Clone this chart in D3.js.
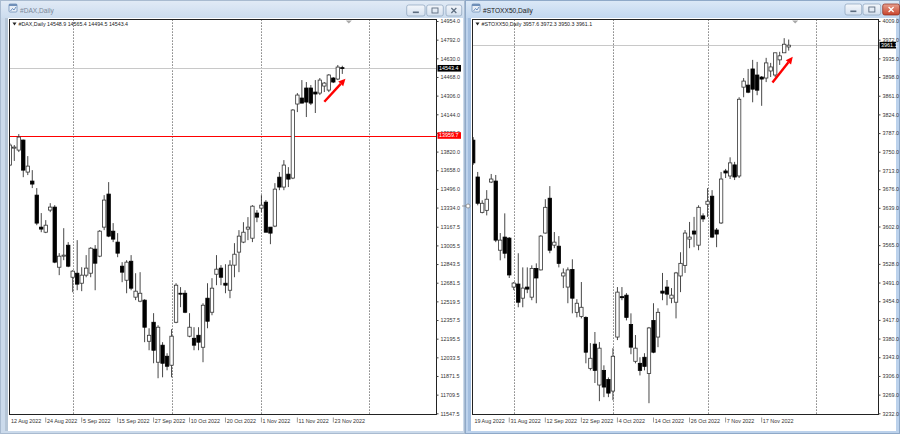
<!DOCTYPE html>
<html><head><meta charset="utf-8">
<script src="https://cdnjs.cloudflare.com/ajax/libs/d3/7.8.5/d3.min.js"></script>
<style>
html,body{margin:0;padding:0;background:#b3c8e2;overflow:hidden}
svg{display:block}
text{font-family:"Liberation Sans",Arial,sans-serif}
</style></head><body>
<svg id="c" width="900" height="434"></svg>
<script>
// ---------------- DATA ----------------
// [open, high, low, close]
const daxCandles = [
[13703,13894,13694,13877],[13850,13877,13739,13859],[13833,13972,13816,13946],[13920,13924,13598,13659],
[13642,13781,13616,13694],[13564,13659,13503,13538],[13442,13503,13181,13199],[13164,13286,13120,13147],
[13120,13225,13112,13181],[13312,13372,13294,13338],[13338,13355,12851,12860],[12816,12938,12747,12912],
[12912,13155,12877,12921],[13007,13034,12816,12825],[12729,12790,12599,12782],[12764,13051,12616,12669],
[12677,12816,12608,12747],[12747,12921,12729,12808],[12764,12990,12729,12981],[12973,13008,12616,12851],
[12912,13138,12903,13129],[13164,13442,13138,13399],[13451,13555,13077,13086],[13129,13199,13034,13060],
[13034,13112,12903,12938],[12825,12860,12686,12773],[12703,12877,12590,12860],[12868,12921,12616,12634],
[12556,12764,12530,12608],[12521,12773,12512,12590],[12530,12538,12165,12295],[12173,12286,12095,12225],
[12338,12417,11982,12095],[11991,12312,11852,12295],[12139,12165,11860,11982],[12043,12069,11921,11956],
[11965,12278,11860,12217],[12338,12677,12330,12660],[12590,12643,12469,12582],[12590,12616,12417,12425],
[12217,12417,12208,12295],[12199,12295,12095,12139],[12225,12295,12095,12165],[12121,12503,11991,12486],
[12547,12677,12286,12347],[12425,12721,12399,12634],[12755,12921,12660,12799],[12808,12834,12660,12729],
[12677,12842,12590,12660],[12616,12877,12547,12834],[12834,13025,12729,12929],[12947,13138,12773,13086],
[13034,13207,13025,13120],[13147,13251,13051,13164],[13068,13355,13034,13346],[13286,13312,13207,13251],
[13329,13442,13294,13355],[13381,13399,13120,13120],[13164,13164,13016,13112],[13173,13546,13164,13494],
[13598,13642,13485,13512],[13512,13746,13485,13703],[13624,13685,13512,13581],[13590,14189,13581,14181],
[14233,14328,14163,14311],[14285,14441,14241,14241],[14372,14424,14120,14250],[14372,14398,14224,14241],
[14337,14441,14155,14320],[14328,14459,14311,14441],[14389,14424,14337,14415],[14354,14493,14337,14485],
[14459,14467,14415,14424],[14450,14572,14441,14554],[14548.9,14565.4,14494.5,14543.4]
];
const stoxxCandles = [
[3773,3779,3724,3728],[3700,3710,3644,3648],[3630,3654,3628,3648],[3634,3674,3624,3656],
[3690,3706,3688,3696],[3692,3704,3571,3575],[3555,3589,3535,3575],[3581,3628,3539,3549],
[3579,3581,3500,3506],[3482,3492,3476,3490],[3488,3549,3442,3452],[3460,3521,3442,3480],
[3482,3521,3470,3478],[3462,3525,3456,3519],[3519,3529,3450,3500],[3516,3585,3515,3583],
[3589,3656,3588,3640],[3658,3682,3549,3555],[3565,3591,3559,3571],[3563,3583,3521,3529],
[3504,3519,3480,3510],[3482,3521,3450,3516],[3517,3537,3430,3460],[3432,3458,3422,3450],
[3424,3492,3420,3442],[3422,3424,3331,3353],[3321,3371,3317,3341],[3369,3393,3292,3317],
[3288,3373,3256,3361],[3317,3327,3264,3284],[3299,3303,3264,3272],[3276,3361,3258,3345],
[3383,3482,3377,3472],[3463,3482,3456,3461],[3466,3470,3416,3422],[3408,3430,3349,3363],
[3335,3387,3331,3361],[3331,3343,3307,3317],[3343,3351,3317,3325],[3311,3403,3252,3401],
[3416,3450,3351,3353],[3383,3440,3363,3432],[3474,3510,3456,3470],[3482,3496,3446,3468],
[3460,3480,3450,3466],[3452,3512,3420,3510],[3504,3551,3472,3529],[3525,3595,3510,3589],
[3577,3611,3559,3581],[3593,3621,3561,3587],[3565,3644,3555,3640],[3623,3628,3611,3617],
[3646,3678,3621,3652],[3662,3674,3579,3581],[3595,3599,3561,3587],[3609,3710,3607,3696],
[3712,3716,3698,3708],[3702,3739,3696,3728],[3724,3730,3694,3700],[3702,3858,3698,3854],
[3878,3896,3858,3890],[3882,3914,3866,3868],[3914,3932,3848,3874],[3902,3928,3862,3872],
[3898,3900,3841,3894],[3896,3936,3888,3926],[3910,3926,3898,3918],[3902,3946,3898,3946],
[3932,3948,3922,3940],[3946,3975,3946,3963],[3957.6,3972.3,3950.3,3961.1]
];
const daxPriceTicks = [14954.0,14792.0,14630.0,14468.0,14306.0,14144.0,13982.0,13820.0,13658.0,13496.0,13334.0,
  13167.5,13005.5,12843.5,12681.5,12519.5,12357.5,12195.5,12033.5,11871.5,11709.5,11547.5];
const stoxxPriceTicks = [4009.0,3972.0,3935.0,3898.0,3861.0,3824.0,3787.0,3750.0,3713.0,3676.0,3639.0,
  3602.0,3565.0,3528.0,3491.0,3454.0,3417.0,3380.0,3343.0,3306.0,3269.0,3232.0];
const daxDateLabels = ["12 Aug 2022","24 Aug 2022","5 Sep 2022","15 Sep 2022","27 Sep 2022","10 Oct 2022",
  "20 Oct 2022","1 Nov 2022","11 Nov 2022","23 Nov 2022"];
const stoxxDateLabels = ["19 Aug 2022","31 Aug 2022","12 Sep 2022","22 Sep 2022","4 Oct 2022","14 Oct 2022",
  "26 Oct 2022","7 Nov 2022","17 Nov 2022"];
const daxStart = "2022-08-12", stoxxStart = "2022-08-19";
const daxClosedDays = ["2022-10-03"], stoxxClosedDays = [];
const monthStarts = ["2022-09-01","2022-10-01","2022-11-01","2022-12-01"];
const daxLevel = 13959.7;
const daxArrow = [[70, 14253], [74.7, 14453]];     // [bar index, price]
const stoxxArrow = [[66.4, 3887], [70.9, 3938]];

// ---------------- HELPERS ----------------
function tradingDays(startISO, n, closed) {
  const out = []; const d = new Date(startISO + "T00:00:00Z");
  while (out.length < n) {
    const wd = d.getUTCDay(), iso = d.toISOString().slice(0,10);
    if (wd !== 0 && wd !== 6 && !closed.includes(iso)) out.push(new Date(d));
    d.setUTCDate(d.getUTCDate() + 1);
  }
  return out;
}
const fmtDate = d3.utcFormat("%-d %b %Y");
const svg = d3.select("#c");
const W = 900, H = 434;
const defs = svg.append("defs");
function grad(id, stops) {
  const g = defs.append("linearGradient").attr("id", id).attr("x1",0).attr("y1",0).attr("x2",0).attr("y2",1);
  stops.forEach(([o,c]) => g.append("stop").attr("offset", o).attr("stop-color", c));
}
grad("tbInactive", [[0,"#e2ebf6"],[1,"#ccdcee"]]);
grad("tbActive", [[0,"#dce9f7"],[1,"#c2d7ef"]]);
grad("btnG", [[0,"#f4f7fb"],[1,"#d3dfee"]]);
grad("btnR", [[0,"#e7a08f"],[1,"#c8432c"]]);

svg.append("rect").attr("width", W).attr("height", H).attr("fill", "#b3c8e2");

// ---------------- WINDOWS ----------------
function drawWindow(o) {
  const g = svg.append("g");
  g.append("rect").attr("x", o.x).attr("y", 0).attr("width", o.w).attr("height", H)
    .attr("fill", o.active ? "#bcd2ec" : "#cbdaeb");
  g.append("rect").attr("x", o.x).attr("y", 0).attr("width", o.w).attr("height", 18)
    .attr("fill", o.active ? "url(#tbActive)" : "url(#tbInactive)");
  g.append("rect").attr("x", o.x + 0.5).attr("y", 0.5).attr("width", o.w - 1).attr("height", H - 1)
    .attr("fill", "none").attr("stroke", o.active ? "#8fa9c8" : "#a9bbd0");
  g.append("rect").attr("x", o.cx - 3).attr("y", o.cy).attr("width", 3).attr("height", o.ch)
    .attr("fill", o.active ? "#a3bedf" : "#b5c5d6");
  g.append("rect").attr("x", o.cx).attr("y", o.cy).attr("width", o.cw).attr("height", o.ch).attr("fill", "#fff");
  const ic = g.append("g").attr("transform", `translate(${o.x + o.iconX},4)`);
  ic.append("rect").attr("width", 8).attr("height", 8).attr("rx", 1).attr("fill", "#e8eef6").attr("stroke", "#6f8fb8").attr("stroke-width", 0.8);
  ic.append("rect").attr("width", 8).attr("height", 2).attr("fill", "#6f8fb8");
  ic.append("path").attr("d", "M1.5,7 L3.5,4.5 L5,6 L7,3").attr("fill", "none").attr("stroke", "#4d79b3").attr("stroke-width", 0.8);
  g.append("text").attr("x", o.x + o.iconX + 11).attr("y", 12.5).attr("font-size", 6.6)
    .attr("fill", o.active ? "#1a1a1a" : "#7b8898").text(o.title);
  o.buttons.forEach((b, i) => {
    const close = i === 2;
    const bg = g.append("g").attr("transform", `translate(${b[0]},${o.btnY})`);
    const bw = b[1] - b[0];
    bg.append("rect").attr("width", bw).attr("height", 11).attr("rx", 2)
      .attr("fill", close && o.active ? "url(#btnR)" : "url(#btnG)")
      .attr("stroke", close && o.active ? "#8c2a1a" : "#8aa0ba").attr("stroke-width", 0.7);
    const c = close && o.active ? "#fff" : "#5d6d80";
    if (i === 0) bg.append("rect").attr("x", bw/2 - 3).attr("y", 6.5).attr("width", 6).attr("height", 1.6).attr("fill", c);
    if (i === 1) bg.append("rect").attr("x", bw/2 - 3).attr("y", 3).attr("width", 6).attr("height", 5)
      .attr("fill", "none").attr("stroke", c).attr("stroke-width", 0.9);
    if (i === 2) bg.append("path").attr("d", `M${bw/2-2.5},3 L${bw/2+2.5},8 M${bw/2+2.5},3 L${bw/2-2.5},8`)
      .attr("stroke", c).attr("stroke-width", 1.2);
  });
}
drawWindow({x:0, w:465, active:false, title:"#DAX,Daily", iconX:9, cx:8, cy:18, cw:455, ch:413,
  btnY:5, buttons:[[406.7,425],[426.7,443.3],[446,461.7]]});
drawWindow({x:465, w:435, active:true, title:"#STOXX50,Daily", iconX:7, cx:471, cy:18, cw:425, ch:413,
  btnY:4, buttons:[[845,861.7],[863,880.7],[882.7,899.5]]});

svg.append("circle").attr("cx", 468).attr("cy", 206).attr("r", 2).attr("fill", "#fff").attr("stroke", "#777").attr("stroke-width", 0.7);
svg.append("line").attr("x1", 462).attr("x2", 466).attr("y1", 206).attr("y2", 206).attr("stroke", "#777").attr("stroke-width", 0.7);

// ---------------- CHARTS ----------------
function drawChart(o) {
  const n = o.candles.length;
  const dates = tradingDays(o.start, n, o.closed);
  const x = d3.scaleLinear().domain([0, n - 1]).range(o.xRange);
  const y = d3.scaleLinear().domain(d3.extent(o.ticks)).range([413.3, 21]);
  const L = o.left, R = o.right, T = 19.5, B = 414.5;
  const g = svg.append("g");
  const clipId = "clip" + o.id;
  defs.append("clipPath").attr("id", clipId).append("rect").attr("x", L).attr("y", T).attr("width", R - L).attr("height", B - T);
  const pg = g.append("g").attr("clip-path", `url(#${clipId})`);

  const lastIdx = n - 1, lastDate = dates[lastIdx];
  const sepIdx = monthStarts.map(ms => {
    const md = new Date(ms + "T00:00:00Z");
    const i = dates.findIndex(d => d >= md);
    return i >= 0 ? i : lastIdx + Math.round((md - lastDate) / 864e5);
  }).filter(i => i > 0);
  pg.selectAll(".sep").data(sepIdx).join("line")
    .attr("x1", d => Math.round(x(d)) + 0.5).attr("x2", d => Math.round(x(d)) + 0.5)
    .attr("y1", T).attr("y2", B).attr("stroke", "#333").attr("stroke-width", 0.8).attr("stroke-dasharray", "1.2,1.8");

  const last = o.candles[lastIdx];
  const snap = v => Math.round(v) + 0.5;
  pg.append("line").attr("x1", L).attr("x2", R).attr("y1", snap(y(last[3]))).attr("y2", snap(y(last[3])))
    .attr("stroke", "#c8c8c8").attr("stroke-width", 1);
  if (o.level) pg.append("line").attr("x1", L).attr("x2", R).attr("y1", snap(y(o.level))).attr("y2", snap(y(o.level)))
    .attr("stroke", "#ff0000").attr("stroke-width", 1.2);

  const cg = pg.selectAll(".cd").data(o.candles).join("g");
  cg.append("line").attr("x1", (d,i) => x(i)).attr("x2", (d,i) => x(i))
    .attr("y1", d => y(d[1])).attr("y2", d => y(d[2])).attr("stroke", "#333").attr("stroke-width", 0.9);
  cg.append("rect").attr("x", (d,i) => x(i) - 1.7).attr("width", 3.4)
    .attr("y", d => y(Math.max(d[0], d[3])))
    .attr("height", d => Math.max(0.9, Math.abs(y(d[0]) - y(d[3]))))
    .attr("fill", d => d[3] >= d[0] ? "#fff" : "#000")
    .attr("stroke", d => d[3] >= d[0] ? "#333" : "#000").attr("stroke-width", 0.8);

  g.append("rect").attr("x", L).attr("y", T).attr("width", R - L).attr("height", B - T)
    .attr("fill", "none").attr("stroke", "#222").attr("stroke-width", 1);

  const ax = g.append("g").attr("transform", `translate(${R},0)`)
    .call(d3.axisRight(y).tickValues(o.ticks).tickSize(2).tickPadding(2).tickFormat(d3.format(".1f")));
  ax.select(".domain").remove();
  ax.selectAll("line").attr("stroke", "#444");
  ax.selectAll("text").attr("font-size", 5.4).attr("fill", "#333").attr("font-family", "Liberation Sans, Arial, sans-serif");

  function priceTag(v, bg, w) {
    const yy = y(v);
    g.append("rect").attr("x", R + 1).attr("y", yy - 3.3).attr("width", w).attr("height", 6.6).attr("fill", bg);
    g.append("text").attr("x", R + 2.5).attr("y", yy).attr("dy", "0.34em").attr("font-size", 5.4)
      .attr("fill", "#fff").text(d3.format(".1f")(v));
  }
  if (o.level) priceTag(o.level, "#ff0000", o.tagW);
  priceTag(last[3], "#000", o.tagW);

  const dg = g.append("g");
  o.dateLabels.forEach(lbl => {
    const i = dates.findIndex(d => fmtDate(d) === lbl);
    if (i < 0) return;
    const xx = x(i);
    if (i > 0) dg.append("line").attr("x1", xx).attr("x2", xx).attr("y1", 417.5).attr("y2", 422.5)
      .attr("stroke", "#555").attr("stroke-width", 0.6);
    dg.append("text").attr("x", xx + 1.2).attr("y", 420.8).attr("dy", "0.34em").attr("font-size", 5.4)
      .attr("fill", "#333").text(lbl);
  });

  g.append("path").attr("d", `M${L + 3},${22.5} L${L + 7},${22.5} L${L + 5},${25.5} Z`).attr("fill", "#222");
  g.append("text").attr("x", L + 9).attr("y", 24).attr("dy", "0.34em").attr("font-size", 5.3).attr("fill", "#222")
    .text(o.name + ",Daily  " + last.map(v => d3.format(".1f")(v)).join(" "));

  const sx = x(lastIdx) + 6.5;
  g.append("path").attr("d", `M${sx - 3},${20.5} L${sx + 3},${20.5} L${sx},${23.5} Z`).attr("fill", "#a8a8a8");

  const [p0, p1] = o.arrow.map(([i, v]) => [x(i), y(v)]);
  const ang = Math.atan2(p1[1] - p0[1], p1[0] - p0[0]);
  const hl = 7, hw = 3.4;
  const bx = p1[0] - hl * Math.cos(ang), by = p1[1] - hl * Math.sin(ang);
  g.append("line").attr("x1", p0[0]).attr("y1", p0[1]).attr("x2", bx).attr("y2", by)
    .attr("stroke", "#f00").attr("stroke-width", 2.4);
  g.append("path").attr("d", `M${p1[0]},${p1[1]} L${bx + hw * Math.sin(ang)},${by - hw * Math.cos(ang)} L${bx - hw * Math.sin(ang)},${by + hw * Math.cos(ang)} Z`)
    .attr("fill", "#f00");
}

drawChart({id:"dax", name:"#DAX", candles:daxCandles, start:daxStart, closed:daxClosedDays,
  xRange:[9.8, 342.3], left:9.5, right:436.5, ticks:daxPriceTicks, dateLabels:daxDateLabels,
  level:daxLevel, tagW:23.5, arrow:daxArrow});
drawChart({id:"stoxx", name:"#STOXX50", candles:stoxxCandles, start:stoxxStart, closed:stoxxClosedDays,
  xRange:[473.2, 788.7], left:472.5, right:878.5, ticks:stoxxPriceTicks, dateLabels:stoxxDateLabels,
  level:null, tagW:16.5, arrow:stoxxArrow});
</script></body></html>
